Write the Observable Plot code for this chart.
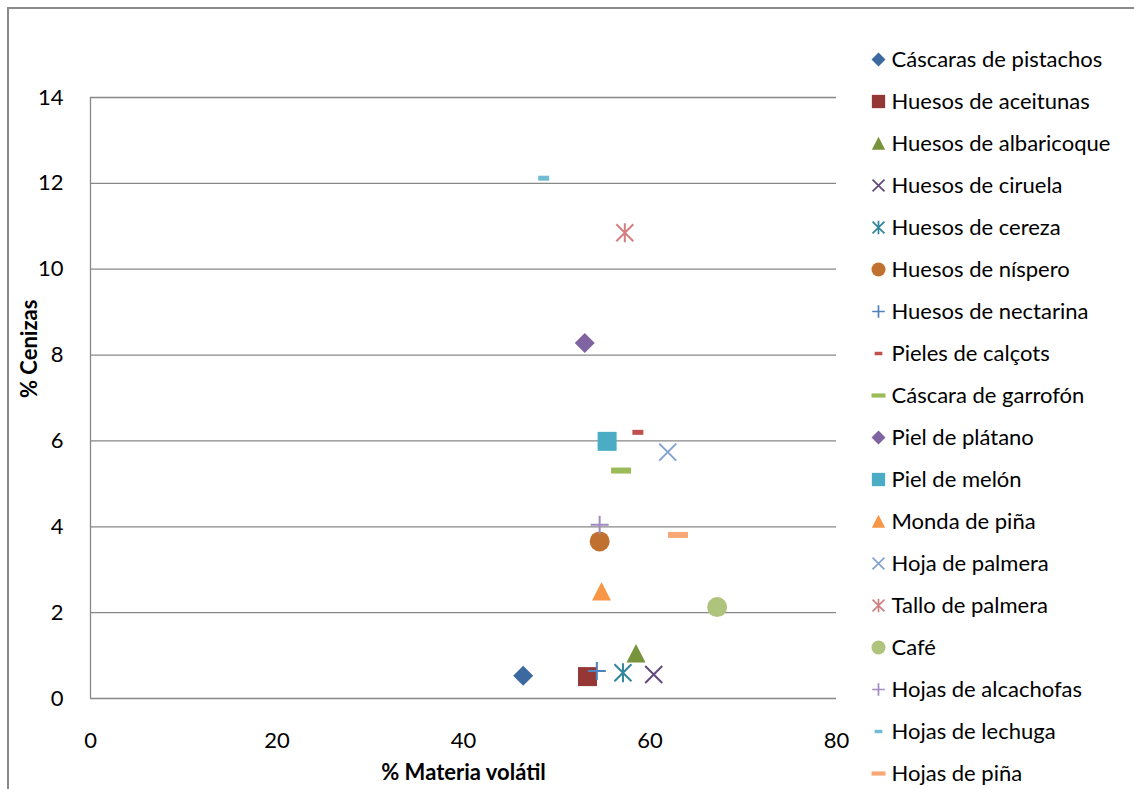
<!DOCTYPE html>
<html><head><meta charset="utf-8">
<script src="https://cdn.jsdelivr.net/npm/d3@7"></script>
<script src="https://cdn.jsdelivr.net/npm/@observablehq/plot@0.6"></script>
<style>
html,body{margin:0;padding:0;background:#fff;overflow:hidden;width:1134px;height:789px;}
#frame{position:absolute;left:7px;top:7px;width:1200px;height:900px;border:2px solid #8a8a8a;box-sizing:border-box}
#chart{position:absolute;left:0;top:0}
#legend{position:absolute;left:860px;top:0}
</style></head><body>
<div id="frame"></div><div id="chart"></div><div id="legend"></div>
<script>
const seriesNames = ["Cáscaras de pistachos","Huesos de aceitunas","Huesos de albaricoque","Huesos de ciruela","Huesos de cereza","Huesos de níspero","Huesos de nectarina","Pieles de calçots","Cáscara de garrofón","Piel de plátano","Piel de melón","Monda de piña","Hoja de palmera","Tallo de palmera","Café","Hojas de alcachofas","Hojas de lechuga","Hojas de piña"];
const volatileMatter = [46.4, 53.3, 58.5, 60.4, 57.1, 54.6, 54.3, 58.7, 56.9, 53.0, 55.4, 54.8, 61.9, 57.3, 67.2, 54.6, 48.6, 63.0];
const ashes = [0.53, 0.51, 1.05, 0.56, 0.6, 3.66, 0.64, 6.2, 5.31, 8.28, 5.99, 2.49, 5.74, 10.85, 2.13, 4.05, 12.12, 3.81];
const markerShapes = ["diamond","square","triangle","x","star","circle","plus","shortdash","dash","diamond","square","triangle","x","star","circle","plus","shortdash","dash"];
const seriesColors = ["#3C6AA0","#953735","#77933C","#604A7B","#31859C","#C0712F","#4F81BD","#C0504D","#9BBB59","#8064A2","#4BACC6","#F79646","#84A3D3","#D38180","#AEC47D","#A08CC0","#72BCD3","#F8A874"];
const xTicks = [0, 20, 40, 60, 80];
const yTicks = [0, 2, 4, 6, 8, 10, 12, 14];
const xLabel = "% Materia volátil";
const yLabel = "% Cenizas";

const FONT = "Lato, 'Open Sans', sans-serif";
const GRID = "#878787";

function poly(c, pts) { c.moveTo(pts[0][0], pts[0][1]); for (let i = 1; i < pts.length; i++) c.lineTo(pts[i][0], pts[i][1]); c.closePath(); }
const half = s => Math.sqrt(s / Math.PI);
const shapeDefs = {
  diamond: {filled: true, draw(c, s) { const h = half(s); poly(c, [[0,-h],[h,0],[0,h],[-h,0]]); }},
  square: {filled: true, draw(c, s) { const h = half(s) * 0.95; c.rect(-h, -h, 2*h, 2*h); }},
  triangle: {filled: true, draw(c, s) { const h = half(s); poly(c, [[0,-0.95*h],[0.95*h,0.9*h],[-0.95*h,0.9*h]]); }},
  circle: {filled: true, draw(c, s) { const h = half(s); c.moveTo(h, 0); c.arc(0, 0, h, 0, 2*Math.PI); c.closePath(); }},
  shortdash: {filled: true, draw(c, s) { const h = half(s); c.rect(-0.55*h, -0.25*h, 1.1*h, 0.5*h); }},
  dash: {filled: true, draw(c, s) { const h = half(s); c.rect(-1.0*h, -0.3*h, 2.0*h, 0.6*h); }},
  x: {filled: false, draw(c, s) { const h = half(s) * 0.85; c.moveTo(-h,-h); c.lineTo(h,h); c.moveTo(h,-h); c.lineTo(-h,h); }},
  star: {filled: false, draw(c, s) { const h = half(s) * 0.85; const v = half(s) * 0.95; c.moveTo(-h,-h); c.lineTo(h,h); c.moveTo(h,-h); c.lineTo(-h,h); c.moveTo(0,-v); c.lineTo(0,v); }},
  plus: {filled: false, draw(c, s) { const h = half(s) * 0.9; c.moveTo(-h,0); c.lineTo(h,0); c.moveTo(0,-h); c.lineTo(0,h); }}
};

const rows = seriesNames.map((name, i) => ({name, x: volatileMatter[i], y: ashes[i], shape: markerShapes[i], color: seriesColors[i]}));

function dotFor(row, opts) {
  const def = shapeDefs[row.shape];
  return Plot.dot([row], {
    ...opts,
    symbol: def,
    fill: def.filled ? row.color : "none",
    stroke: def.filled ? "none" : row.color,
    strokeWidth: def.filled ? 0 : opts.sw
  });
}

const chart = Plot.plot({
  width: 1134, height: 789,
  marginLeft: 90, marginRight: 298, marginTop: 97, marginBottom: 91,
  style: {fontFamily: FONT, fontSize: "22px", color: "#000", background: "transparent", overflow: "visible"},
  x: {domain: [0, 80]},
  y: {domain: [0, 14]},
  marks: [
    Plot.ruleY(yTicks, {stroke: GRID, strokeWidth: 1.3}),
    Plot.ruleX([0], {stroke: GRID, strokeWidth: 1.3}),
    Plot.axisY({ticks: yTicks, tickSize: 0, tickPadding: 27, label: null, fontSize: 22}),
    Plot.axisX({ticks: xTicks, tickSize: 0, tickPadding: 34, label: null, fontSize: 22}),
    Plot.text([yLabel], {text: d => d, frameAnchor: "left", rotate: -90, dx: -61, fontWeight: "bold", fontSize: 22}),
    Plot.text([xLabel], {text: d => d, frameAnchor: "bottom", dy: 81, fontWeight: "bold", fontSize: 22}),
    ...rows.map(r => dotFor(r, {x: "x", y: "y", r: 10, sw: 2}))
  ]
});
document.getElementById("chart").appendChild(chart);

const legend = Plot.plot({
  width: 274, height: 789, margin: 0,
  style: {fontFamily: FONT, fontSize: "22px", color: "#000", background: "transparent", overflow: "visible"},
  y: {type: "point", domain: seriesNames, range: [57.5, 775], padding: 0, axis: null},
  marks: [
    ...rows.map(r => dotFor(r, {y: "name", frameAnchor: "left", dx: 18, r: 7, sw: 1.7})),
    Plot.text(rows, {y: "name", text: "name", frameAnchor: "left", dx: 31, textAnchor: "start", fontSize: 22, fill: "#000"})
  ]
});
document.getElementById("legend").appendChild(legend);
</script>
</body></html>
